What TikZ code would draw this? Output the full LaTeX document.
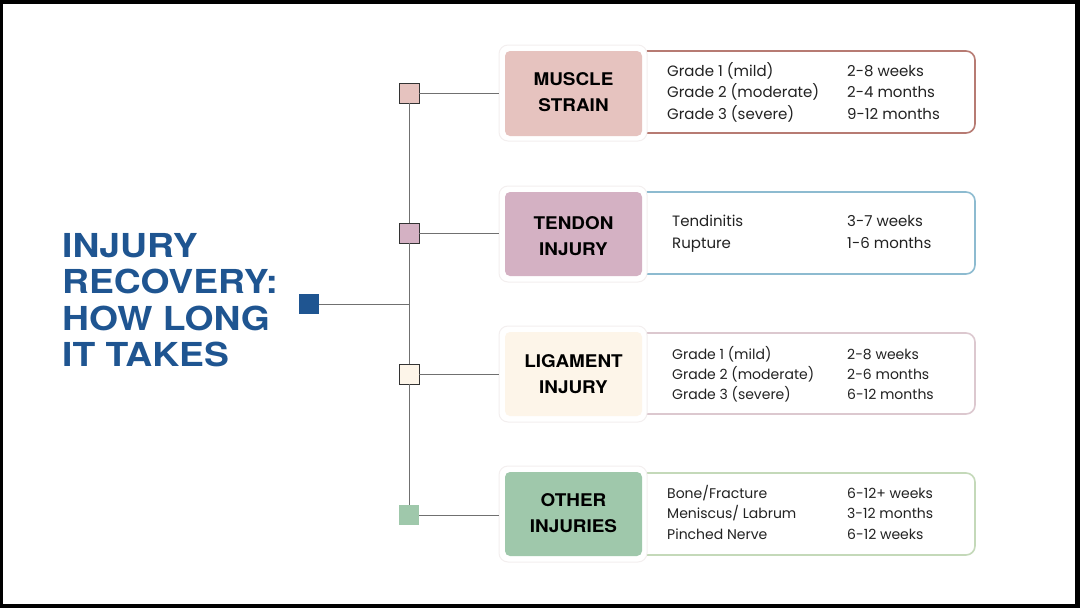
\documentclass[tikz,border=0pt]{standalone}
\usepackage{fontspec}
\setmainfont{Poppins}
\newfontfamily\headfont[FakeStretch=1.08]{texgyreheros-bold.otf}
\newfontfamily\titlefont[FakeStretch=1.13]{texgyreheros-bold.otf}
\definecolor{titleblue}{HTML}{1F5591}
\definecolor{musclefill}{HTML}{E6C3BF}
\definecolor{muscleline}{HTML}{B77B73}
\definecolor{tendonfill}{HTML}{D4B1C3}
\definecolor{tendonline}{HTML}{8DBBD0}
\definecolor{ligfill}{HTML}{FDF5E9}
\definecolor{ligline}{HTML}{DCC8CF}
\definecolor{otherfill}{HTML}{9FC8AB}
\definecolor{otherline}{HTML}{C4D9B9}
\definecolor{conn}{HTML}{707070}
\definecolor{halo}{HTML}{F3EFEF}
\definecolor{bodytext}{HTML}{222222}
\tikzset{
  titletext/.style={anchor=base west, inner sep=0, text=titleblue,
    font=\titlefont\fontsize{33}{36}\selectfont},
  cattext/.style={align=center, inner sep=0, text=black,
    font=\headfont\fontsize{17.5}{26}\selectfont},
  connector/.style={draw=conn, line width=1pt},
  smallsq/.style={minimum width=20pt, minimum height=20pt, inner sep=0, draw=black!80, line width=0.9pt},
  plainsq/.style={minimum width=20pt, minimum height=20pt, inner sep=0},
  halobox/.style={fill=white, draw=halo, line width=1pt, rounded corners=9pt},
  catbox/.style={rounded corners=5pt},
  detbox/.style={fill=white, line width=1.6pt, rounded corners=9pt},
  det/.style={anchor=base west, inner sep=0, text=bodytext},
  detl/.style={det, font=\fontsize{15}{18}\selectfont},
  dets/.style={det, font=\fontsize{14}{17}\selectfont},
}
\begin{document}
\begin{tikzpicture}[x=1pt,y=-1pt]
\fill[black] (0,0) rectangle (1080,608);
\fill[white] (3,4) rectangle (1075,604);
\useasboundingbox (0,0) rectangle (1080,608);

% title
\node[titletext] (t1) at (62,257) {INJURY};
\node[titletext] (t2) at (62,293.5) {RECOVERY:};
\node[titletext] (t3) at (62,330) {HOW LONG};
\node[titletext] (t4) at (62,366.5) {IT TAKES};

% detail boxes
\draw[detbox, draw=muscleline] (630,51) rectangle (975,133);
\draw[detbox, draw=tendonline] (630,192) rectangle (975,274);
\draw[detbox, draw=ligline] (630,333) rectangle (975,414);
\draw[detbox, draw=otherline] (630,473) rectangle (975,555);

% halos and category boxes
\draw[halobox] (499,45) rectangle (647,141);
\draw[halobox] (499,186) rectangle (647,282);
\draw[halobox] (499,326) rectangle (647,422);
\draw[halobox] (499,466) rectangle (647,562);
\fill[catbox, musclefill] (505,51) rectangle (642,136);
\fill[catbox, tendonfill] (505,192) rectangle (642,276);
\fill[catbox, ligfill] (505,332) rectangle (642,416);
\fill[catbox, otherfill] (505,472) rectangle (642,556);

\node[cattext] (cm) at (573.5,92.5) {MUSCLE\\STRAIN};
\node[cattext] (ct) at (573.5,236) {TENDON\\INJURY};
\node[cattext] (cl) at (573.5,374) {LIGAMENT\\INJURY};
\node[cattext] (co) at (573.5,513.5) {OTHER\\INJURIES};

\coordinate (hm) at (499,93);
\coordinate (ht) at (499,233);
\coordinate (hl) at (499,374);
\coordinate (ho) at (499,515);

% squares
\node[plainsq, fill=titleblue] (root) at (309,304) {};
\node[smallsq, fill=musclefill] (sm) at (409,93) {};
\node[smallsq, fill=tendonfill] (st) at (409,233) {};
\node[smallsq, fill=ligfill] (sl) at (409,374) {};
\node[plainsq, fill=otherfill] (so) at (409,515) {};
\coordinate (junction) at (409,304);

% connectors
\draw[connector] (root.east) -- (junction);
\draw[connector] (sm.south) -- (st.north);
\draw[connector] (st.south) -- (sl.north);
\draw[connector] (sl.south) -- (so.north);
\draw[connector] (sm.east) -- (hm);
\draw[connector] (st.east) -- (ht);
\draw[connector] (sl.east) -- (hl);
\draw[connector] (so.east) -- (ho);

% details: muscle strain
\node[detl] (ma1) at (667,76) {Grade 1 (mild)};
\node[detl] (mb1) at (847,76) {2-8 weeks};
\node[detl] (ma2) at (667,97.5) {Grade 2 (moderate)};
\node[detl] (mb2) at (847,97.5) {2-4 months};
\node[detl] (ma3) at (667,119) {Grade 3 (severe)};
\node[detl] (mb3) at (847,119) {9-12 months};
% tendon
\node[detl] (ta1) at (672,226) {Tendinitis};
\node[detl] (tb1) at (847,226) {3-7 weeks};
\node[detl] (ta2) at (672,248) {Rupture};
\node[detl] (tb2) at (847,248) {1-6 months};
% ligament
\node[dets] (la1) at (672,359) {Grade 1 (mild)};
\node[dets] (lb1) at (847,359) {2-8 weeks};
\node[dets] (la2) at (672,379) {Grade 2 (moderate)};
\node[dets] (lb2) at (847,379) {2-6 months};
\node[dets] (la3) at (672,399) {Grade 3 (severe)};
\node[dets] (lb3) at (847,399) {6-12 months};
% other
\node[dets] (oa1) at (667,498.5) {Bone/Fracture};
\node[dets] (ob1) at (847,498.5) {6-12+ weeks};
\node[dets] (oa2) at (667,518.5) {Meniscus/ Labrum};
\node[dets] (ob2) at (847,518.5) {3-12 months};
\node[dets] (oa3) at (667,539) {Pinched Nerve};
\node[dets] (ob3) at (847,539) {6-12 weeks};
\end{tikzpicture}
\end{document}
